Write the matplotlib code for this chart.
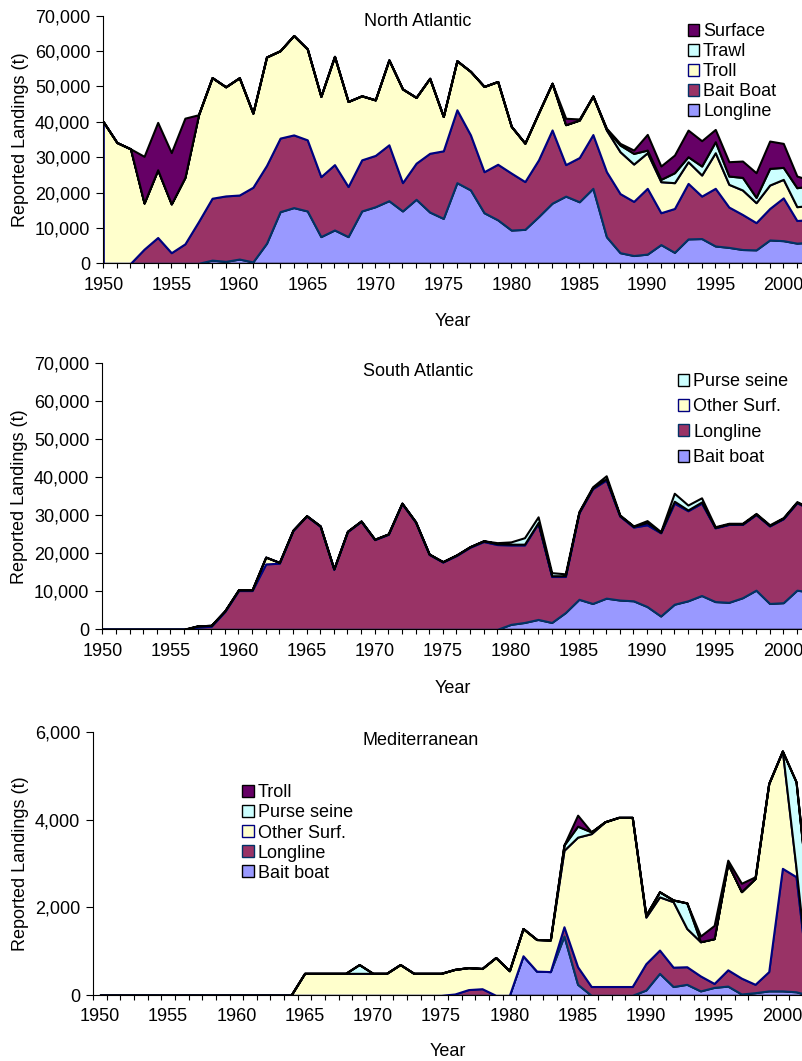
import matplotlib
matplotlib.use("Agg")
import matplotlib.pyplot as plt
from matplotlib.patches import Patch
from matplotlib.ticker import FuncFormatter, FixedLocator
import numpy as np

# ---------------- data ----------------
years = list(range(1950, 2003))
label_years = list(range(1950, 2001, 5))

# North Atlantic (stack order bottom -> top)
na_longline = [0, 0, 0, 0, 0, 0, 0, 0, 900, 550, 1200, 400, 5660, 14600, 15750, 14800,
               7550, 9430, 7550, 14800, 16000, 17700, 14800, 18100, 14500, 12700, 22800,
               20750, 14300, 12300, 9400, 9600, 13200, 17000, 19000, 17400, 21200, 7500,
               3000, 2200, 2600, 5300, 3100, 6900, 7000, 4900, 4500, 3900, 3800, 6600,
               6400, 5700, 5950]
na_baitboat = [0, 0, 0, 4000, 7300, 3000, 5500, 11800, 17500, 18500, 18100, 21100, 22000,
               20800, 20550, 20100, 16950, 18470, 14150, 14450, 14500, 15800, 8000, 10200,
               16600, 19100, 20600, 15550, 11600, 15700, 16100, 13500, 16050, 20700, 8900,
               12500, 15200, 18400, 16700, 15300, 18600, 9000, 12400, 15700, 12000, 16300,
               11400, 9900, 7700, 8900, 12100, 6400, 6410]
na_troll = [40000, 34150, 32360, 13040, 19140, 13800, 18780, 30200, 34100, 30850,
            33160, 20950, 30660, 24700, 28100, 25700, 22700, 30600, 24050, 18100,
            15700, 24000, 26500, 18600, 21200, 9700, 13860, 17950, 24100, 23400,
            13200, 10860, 13250, 13200, 11300, 10600, 10900, 11760, 11840, 10560,
            10060, 8770, 7290, 6120, 5950, 10060, 6420, 6920, 5640, 6630,
            5230, 3910, 3990]
na_trawl = [0] * 37 + [200, 1890, 3010, 750, 660, 2820, 1410, 2550, 3110, 2350, 3570,
                       1500, 4710, 3390, 5360, 5550]
na_surface = ([0, 0, 0, 13200, 13400, 14500, 16750] + [0] * 27 +
              [1800, 300, 0, 300, 470, 940, 4430, 3770, 4990, 7530, 7150, 3480, 4050,
               4620, 6970, 7720, 6780, 3300, 1550])

# South Atlantic
sa_baitboat = [0] * 30 + [1300, 1800, 2600, 1800, 4400, 7900, 6800, 8200, 7700, 7500, 6000,
                          3500, 6600, 7500, 8900, 7300, 7100, 8300, 10300, 6800, 7000, 10300,
                          9800]
sa_longline = [0] * 7 + [600, 800, 4700, 10200, 10200, 17200, 17400, 26000, 29800, 27100,
                         15800, 25700, 28400, 23600, 25000, 33100, 28200, 19700, 17700, 19400,
                         21600, 23100, 22300, 20900, 20400, 25300, 12100, 9500, 22800, 30200,
                         31100, 22100, 19400, 21500, 21900, 26600, 23700, 24300, 19400, 20500,
                         19300, 19900, 20400, 22100, 23000, 21800]
sa_othersurf = ([0] * 7 + [300, 250, 200, 200, 200, 1800, 200] + [100] * 12 +
                [150, 150, 200, 200, 200, 200, 200, 200, 200, 100, 200, 300, 100, 200, 600,
                 100, 500, 200, 300] + [100] * 8)
sa_purseseine = ([0] * 29 + [300, 600, 1700, 1500, 800, 500, 200, 300, 800, 200, 100, 500,
                             200, 2100, 1300, 1100] + [200] * 8)

# Mediterranean
med_baitboat = [0] * 30 + [0, 900, 550, 540, 1350, 250, 0, 0, 0, 0, 120, 500, 200, 250, 100,
                           180, 210, 30, 60, 100, 100, 80, 0]
med_longline = [0] * 26 + [30, 130, 150, 0, 0, 0, 0, 0, 210, 400, 200, 200, 200, 200, 600,
                           530, 440, 400, 340, 90, 370, 360, 190, 440, 2790, 2620, 0]
med_othersurf = ([0] * 15 + [500, 500, 500, 500, 500, 500, 500, 700, 500, 500, 500, 560, 500,
                             460, 860, 560, 620, 720, 720, 1740, 2950, 3480, 3750, 3850, 3850,
                             1060, 1210, 1490, 870, 780, 1020, 2420, 1970, 2410, 4280, 2670,
                             200, 0])
med_purseseine = ([0] * 19 + [200] + [0] * 14 + [120, 250, 40, 0, 0, 0, 40, 116, 40, 583, 0,
                                                 0, 0, 0, 0, 0, 0, 1960, 1900])
med_troll = [0] * 35 + [250] + [0] * 8 + [130, 300, 76, 190, 37, 0, 0, 0, 0]

# ---------------- style ----------------
plt.rcParams['font.family'] = ['Liberation Sans', 'DejaVu Sans']
plt.rcParams['font.size'] = 13

C_BLUE = '#9999FF'
C_MAROON = '#993366'
C_YELLOW = '#FFFFCC'
C_CYAN = '#CCFFFF'
C_PURPLE = '#660066'
E_BLACK = '#000000'
E_NAVY = '#000080'
E_TEAL = '#003366'

W, H = 803, 1061
fig = plt.figure(figsize=(W / 100, H / 100), dpi=100)


def rect(l, r, t, b):
    return [l / W, 1 - b / H, (r - l) / W, (b - t) / H]


def stack(ax, x, series, faces, edges):
    base = np.zeros(len(x))
    for vals, fc, ec in zip(series, faces, edges):
        top = base + np.asarray(vals, dtype=float)
        ax.fill_between(x, base, top, facecolor=fc, edgecolor=ec, linewidth=1.5)
        base = top


def style(ax, ymax, ystep, title, tx, ty, xlim, between=False):
    for s in ('top', 'right'):
        ax.spines[s].set_visible(False)
    for s in ('left', 'bottom'):
        ax.spines[s].set_linewidth(0.8)
        ax.spines[s].set_color('#000000')
    ax.set_ylim(0, ymax)
    ax.set_xlim(*xlim)
    ax.yaxis.set_major_locator(FixedLocator(list(range(0, ymax + 1, ystep))))
    ax.yaxis.set_major_formatter(FuncFormatter(lambda v, p: f"{int(v):,}"))
    ax.tick_params(axis='y', direction='out', length=4.8, width=0.8, pad=4.5)
    ax.xaxis.set_major_locator(FixedLocator(label_years))
    if between:
        ax.xaxis.set_minor_locator(FixedLocator(list(np.arange(1949.5, 2002, 1.0))))
        ax.tick_params(axis='x', which='major', length=0, pad=9.5)
        ax.tick_params(axis='x', which='minor', direction='out', length=3.6, width=0.8)
    else:
        ax.xaxis.set_minor_locator(FixedLocator(years))
        ax.tick_params(axis='x', which='both', direction='out', length=3.6, width=0.8, pad=6)
    ax.text(tx, ty, title, transform=ax.transAxes, ha='center', va='center', fontsize=13)
    ax.set_xlabel('Year')
    ax.set_ylabel('Reported Landings (t)')
    ax.xaxis.label.set_va('center')
    ax.yaxis.label.set_va('center')


leg_kw = dict(loc='upper left', frameon=False, borderpad=0, borderaxespad=0,
              handlelength=0.65, handleheight=0.65, handletextpad=0.2, fontsize=13)

# ---- Panel 1: North Atlantic
ax1 = fig.add_axes(rect(103.3, 803, 15.7, 263.3))
stack(ax1, years, [na_longline, na_baitboat, na_troll, na_trawl, na_surface],
      [C_BLUE, C_MAROON, C_YELLOW, C_CYAN, C_PURPLE],
      [E_BLACK, E_TEAL, E_NAVY, E_BLACK, E_BLACK])
style(ax1, 70000, 10000, 'North Atlantic', 0.4498, 0.9746, (1950, 2001.45))
ax1.yaxis.set_label_coords(-0.119, 0.5)
ax1.xaxis.set_label_coords(0.5, -0.237)
h1 = [Patch(facecolor=C_PURPLE, edgecolor=E_BLACK, label='Surface'),
      Patch(facecolor=C_CYAN, edgecolor=E_BLACK, label='Trawl'),
      Patch(facecolor=C_YELLOW, edgecolor=E_NAVY, label='Troll'),
      Patch(facecolor=C_MAROON, edgecolor=E_TEAL, label='Bait Boat'),
      Patch(facecolor=C_BLUE, edgecolor=E_BLACK, label='Longline')]
ax1.legend(handles=h1, bbox_to_anchor=(0.8352, 0.9705), labelspacing=0.17, **leg_kw)

# ---- Panel 2: South Atlantic
ax2 = fig.add_axes(rect(102.3, 803, 363.3, 629.3))
stack(ax2, years, [sa_baitboat, sa_longline, sa_othersurf, sa_purseseine],
      [C_BLUE, C_MAROON, C_YELLOW, C_CYAN],
      [E_BLACK, E_TEAL, E_NAVY, E_BLACK])
style(ax2, 70000, 10000, 'South Atlantic', 0.4505, 0.971, (1950, 2001.45))
ax2.yaxis.set_label_coords(-0.1175, 0.5)
ax2.xaxis.set_label_coords(0.5, -0.2207)
h2 = [Patch(facecolor=C_CYAN, edgecolor=E_BLACK, label='Purse seine'),
      Patch(facecolor=C_YELLOW, edgecolor=E_NAVY, label='Other Surf.'),
      Patch(facecolor=C_MAROON, edgecolor=E_TEAL, label='Longline'),
      Patch(facecolor=C_BLUE, edgecolor=E_BLACK, label='Bait boat')]
ax2.legend(handles=h2, bbox_to_anchor=(0.8212, 0.9635), labelspacing=0.46, **leg_kw)

# ---- Panel 3: Mediterranean
ax3 = fig.add_axes(rect(93, 803, 731.7, 995.3))
stack(ax3, years, [med_baitboat, med_longline, med_othersurf, med_purseseine, med_troll],
      [C_BLUE, C_MAROON, C_YELLOW, C_CYAN, C_PURPLE],
      [E_BLACK, E_TEAL, E_NAVY, E_BLACK, E_BLACK])
style(ax3, 6000, 2000, 'Mediterranean', 0.462, 0.9685, (1949.5, 2001.51), between=True)
ax3.yaxis.set_label_coords(-0.1028, 0.5)
ax3.xaxis.set_label_coords(0.5, -0.215)
h3 = [Patch(facecolor=C_PURPLE, edgecolor=E_BLACK, label='Troll'),
      Patch(facecolor=C_CYAN, edgecolor=E_BLACK, label='Purse seine'),
      Patch(facecolor=C_YELLOW, edgecolor=E_NAVY, label='Other Surf.'),
      Patch(facecolor=C_MAROON, edgecolor=E_TEAL, label='Longline'),
      Patch(facecolor=C_BLUE, edgecolor=E_BLACK, label='Bait boat')]
ax3.legend(handles=h3, bbox_to_anchor=(0.2103, 0.800), labelspacing=0.17, **leg_kw)

fig.savefig('out.png', dpi=100)
